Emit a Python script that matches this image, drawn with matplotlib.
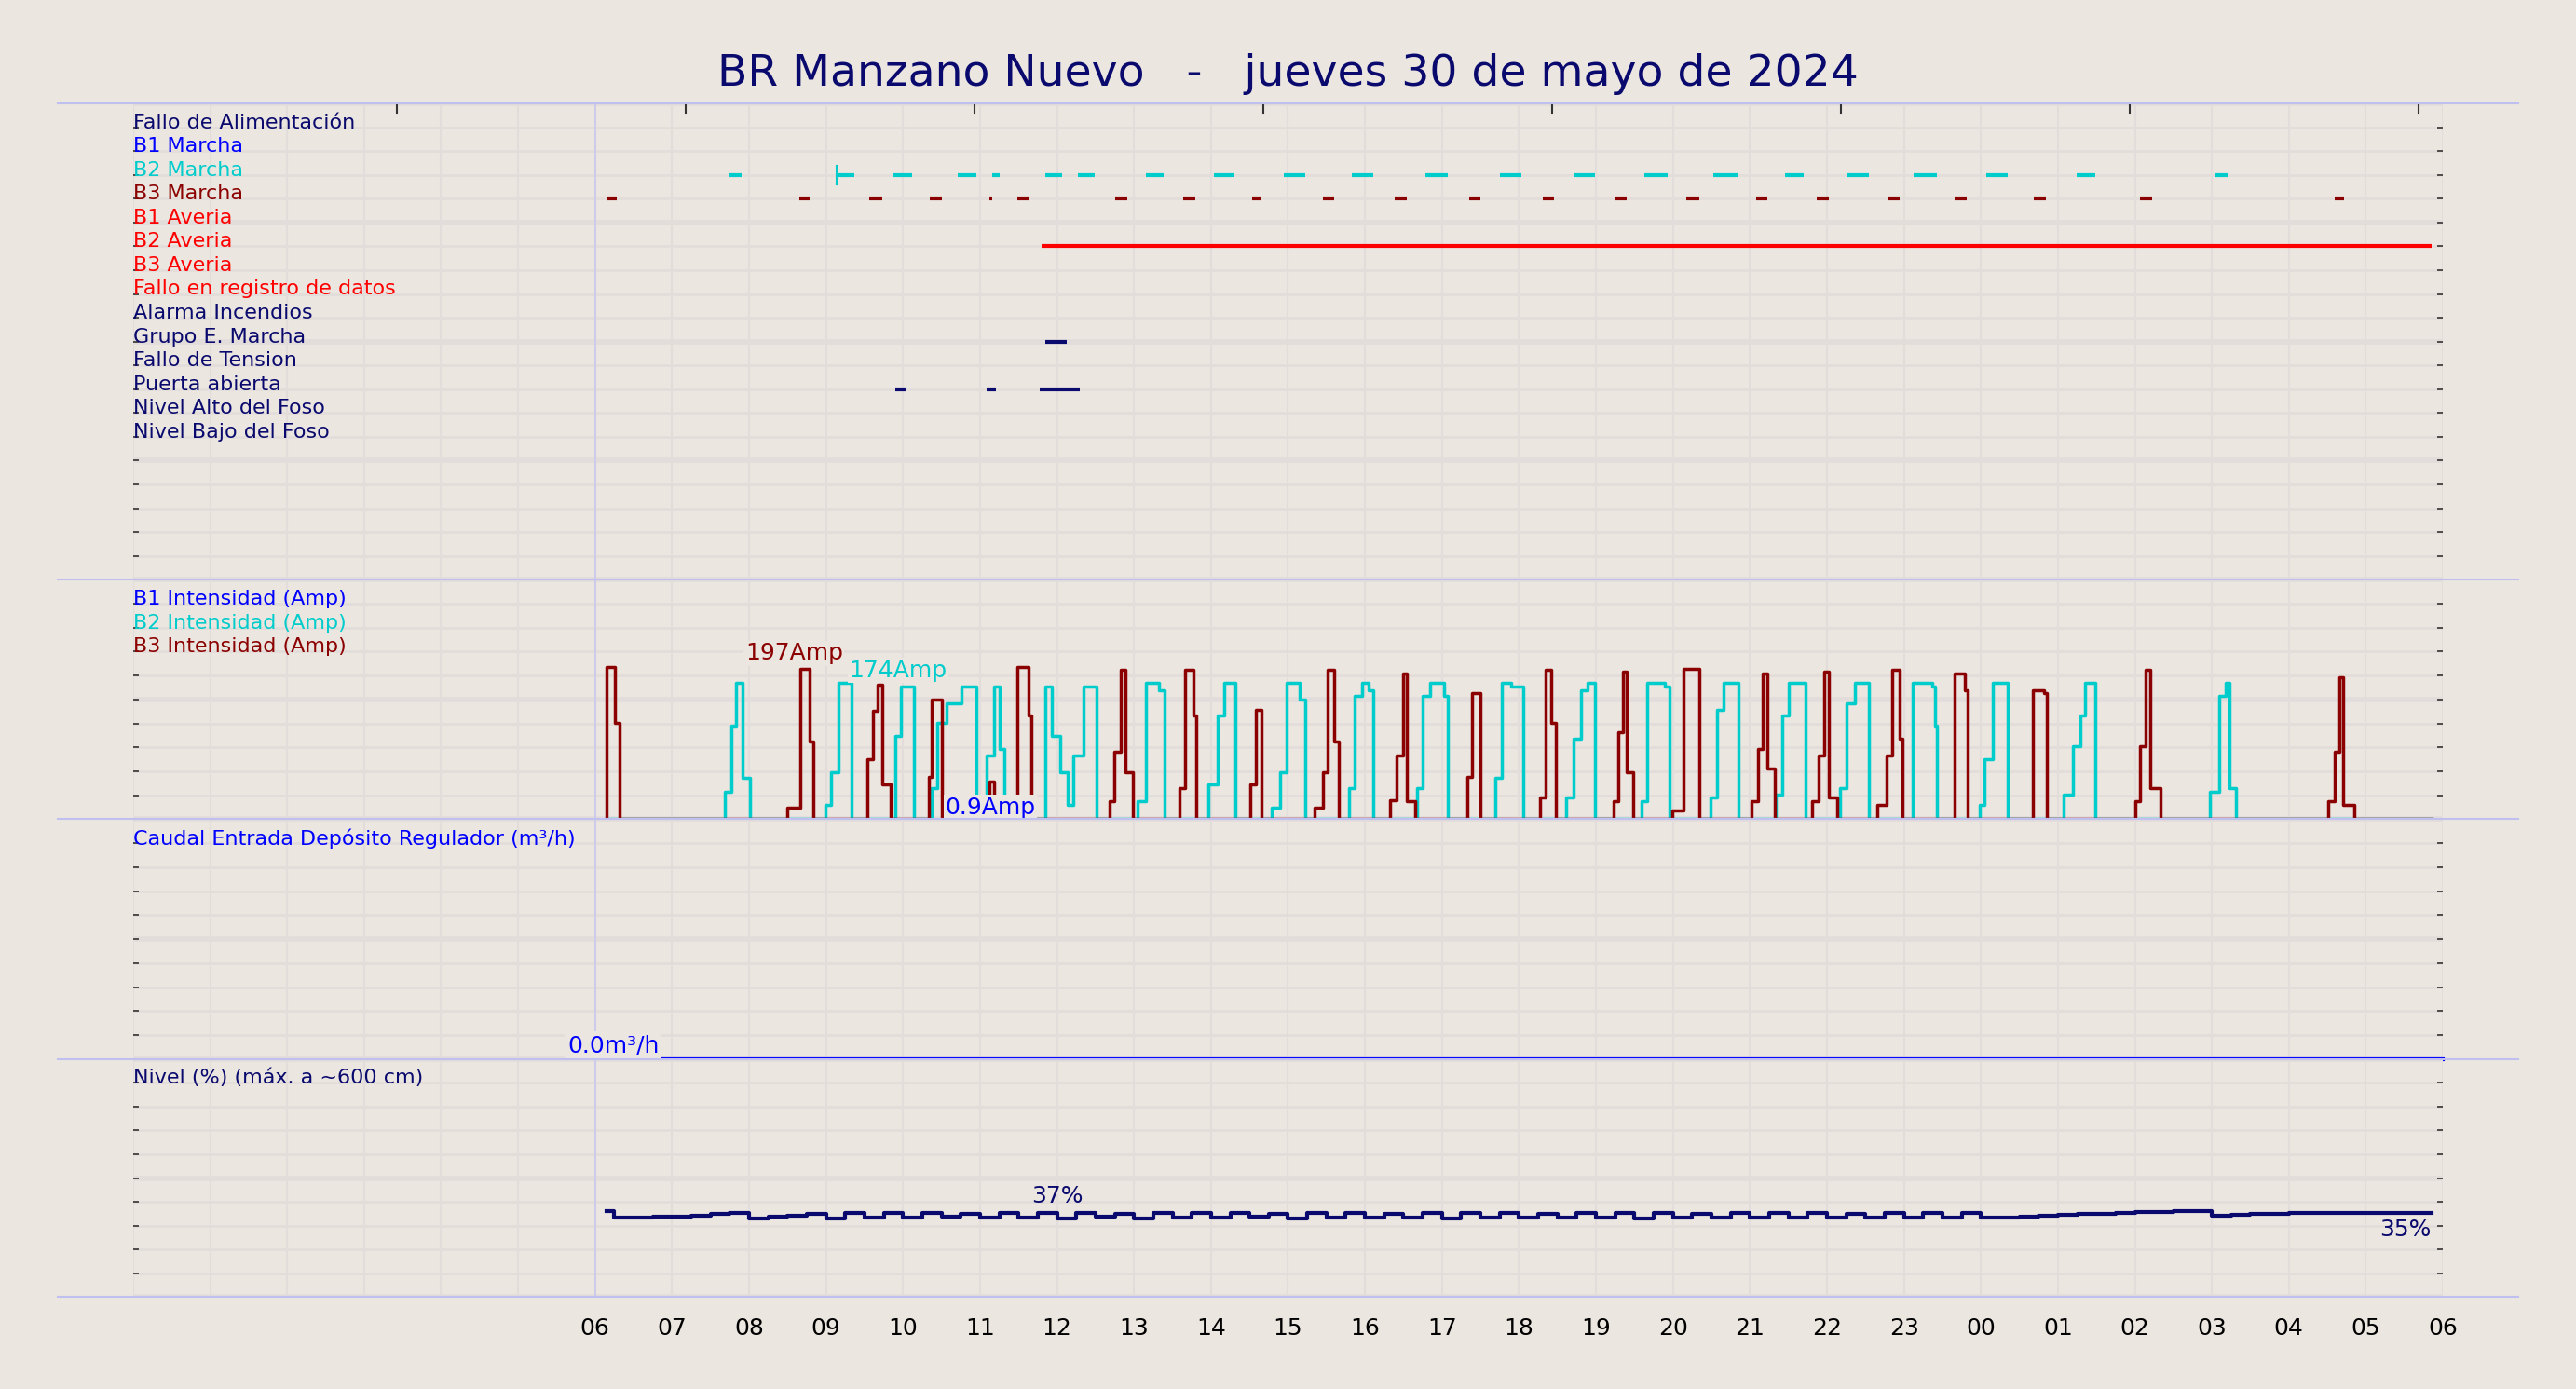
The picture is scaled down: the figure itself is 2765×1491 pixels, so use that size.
import matplotlib.pyplot as plt
import numpy as np

BG = '#ebe6e0'
NAVY = '#0a0a6e'
CYAN = '#00cccc'
DRED = '#8b0000'

title = "BR Manzano Nuevo   -   jueves 30 de mayo de 2024"
hour_labels = ['06', '07', '08', '09', '10', '11', '12', '13', '14', '15', '16', '17', '18',
               '19', '20', '21', '22', '23', '00', '01', '02', '03', '04', '05', '06']

signal_names = ['Fallo de Alimentación', 'B1 Marcha', 'B2 Marcha', 'B3 Marcha', 'B1 Averia',
                'B2 Averia', 'B3 Averia', 'Fallo en registro de datos', 'Alarma Incendios',
                'Grupo E. Marcha', 'Fallo de Tension', 'Puerta abierta', 'Nivel Alto del Foso',
                'Nivel Bajo del Foso']
signal_colors = [NAVY, 'blue', CYAN, DRED, 'red', 'red', 'red', 'red', NAVY, NAVY, NAVY, NAVY,
                 NAVY, NAVY]

# on-intervals (hours from 00:00 of the day; >24 = next day)
b2_marcha = [(7.75, 7.90), (9.14, 9.37), (9.88, 10.12), (10.71, 10.95), (11.16, 11.25),
             (11.85, 12.06), (12.27, 12.49), (13.15, 13.38), (14.04, 14.30), (14.94, 15.22),
             (15.83, 16.11), (16.79, 17.07), (17.75, 18.03), (18.71, 18.99), (19.63, 19.93),
             (20.53, 20.85), (21.45, 21.70), (22.26, 22.55), (23.13, 23.43), (24.07, 24.35),
             (25.24, 25.48), (27.03, 27.21)]
b3_marcha = [(6.15, 6.28), (8.65, 8.79), (9.56, 9.73), (10.35, 10.50), (11.12, 11.16),
             (11.48, 11.63), (12.76, 12.91), (13.64, 13.79), (14.53, 14.66), (15.45, 15.60),
             (16.39, 16.54), (17.35, 17.50), (18.31, 18.46), (19.25, 19.40), (20.17, 20.34),
             (21.08, 21.23), (21.87, 22.02), (22.79, 22.94), (23.66, 23.81), (24.69, 24.84),
             (26.07, 26.22), (28.59, 28.72)]
b2_averia = [(11.80, 29.85)]
grupo_marcha = [(11.85, 12.12)]
puerta_abierta = [(9.90, 10.03), (11.08, 11.21), (11.78, 12.29)]
signal_on = {2: b2_marcha, 3: b3_marcha, 5: b2_averia, 9: grupo_marcha, 11: puerta_abierta}

# current pulses: list of (time, amps) steps, last point returns to 0
b3_pulses = [
    [(6.15, 197), (6.26, 125), (6.32, 0)],
    [(8.50, 15), (8.67, 195), (8.79, 100), (8.84, 0)],
    [(9.54, 78), (9.61, 140), (9.67, 174), (9.73, 45), (9.84, 0)],
    [(10.33, 55), (10.37, 155), (10.50, 0)],
    [(11.12, 49), (11.18, 0)],
    [(11.48, 197), (11.63, 134), (11.67, 0)],
    [(12.68, 23), (12.74, 87), (12.83, 193), (12.89, 61), (12.98, 0)],
    [(13.59, 40), (13.66, 193), (13.77, 134), (13.81, 0)],
    [(14.51, 45), (14.58, 142), (14.66, 0)],
    [(15.34, 15), (15.45, 61), (15.51, 193), (15.60, 100), (15.66, 0)],
    [(16.33, 25), (16.41, 83), (16.50, 189), (16.54, 23), (16.65, 0)],
    [(17.33, 55), (17.39, 163), (17.50, 0)],
    [(18.27, 28), (18.35, 193), (18.42, 125), (18.48, 0)],
    [(19.23, 23), (19.29, 112), (19.35, 191), (19.40, 61), (19.48, 0)],
    [(19.99, 11), (20.14, 195), (20.31, 195), (20.34, 0)],
    [(21.02, 23), (21.10, 91), (21.17, 189), (21.23, 66), (21.32, 0)],
    [(21.81, 23), (21.89, 83), (21.96, 191), (22.02, 28), (22.13, 0)],
    [(22.66, 19), (22.77, 83), (22.85, 193), (22.94, 104), (22.98, 0)],
    [(23.66, 189), (23.79, 167), (23.83, 0)],
    [(24.67, 167), (24.82, 163), (24.86, 0)],
    [(26.01, 23), (26.07, 95), (26.14, 193), (26.20, 40), (26.33, 0)],
    [(28.51, 23), (28.59, 87), (28.66, 184), (28.70, 19), (28.85, 0)],
]
b2_pulses = [
    [(7.69, 36), (7.77, 121), (7.83, 176), (7.92, 53), (8.01, 0)],
    [(8.99, 19), (9.07, 61), (9.16, 176), (9.33, 0)],
    [(9.90, 108), (9.97, 172), (10.14, 0)],
    [(10.37, 40), (10.44, 125), (10.57, 150), (10.76, 172), (10.95, 0)],
    [(11.08, 83), (11.18, 172), (11.25, 91), (11.31, 0)],
    [(11.85, 172), (11.93, 108), (12.04, 61), (12.14, 19), (12.21, 83), (12.34, 172), (12.51, 0)],
    [(13.04, 23), (13.15, 176), (13.32, 167), (13.40, 0)],
    [(13.96, 45), (14.09, 134), (14.17, 176), (14.32, 0)],
    [(14.79, 15), (14.90, 61), (14.98, 176), (15.15, 155), (15.22, 0)],
    [(15.79, 40), (15.86, 159), (15.96, 176), (16.05, 167), (16.11, 0)],
    [(16.67, 40), (16.75, 159), (16.84, 176), (17.03, 159), (17.07, 0)],
    [(17.69, 53), (17.78, 176), (17.90, 172), (18.05, 0)],
    [(18.61, 28), (18.71, 104), (18.80, 167), (18.89, 176), (18.99, 0)],
    [(19.59, 23), (19.67, 176), (19.89, 172), (19.95, 0)],
    [(20.49, 28), (20.57, 142), (20.66, 176), (20.85, 0)],
    [(21.34, 32), (21.42, 134), (21.51, 176), (21.72, 0)],
    [(22.17, 40), (22.26, 150), (22.36, 176), (22.55, 0)],
    [(23.11, 176), (23.37, 172), (23.41, 121), (23.43, 0)],
    [(23.98, 19), (24.05, 78), (24.15, 176), (24.35, 0)],
    [(25.07, 32), (25.20, 95), (25.29, 134), (25.35, 176), (25.48, 0)],
    [(26.97, 36), (27.10, 159), (27.18, 176), (27.23, 40), (27.31, 0)],
]
current_start, current_end = 6.15, 29.85

caudal = 0.0

nivel_t0, nivel_dt = 6.25, 0.25
nivel = [33.3, 33.4, 33.6, 33.9, 34.3, 34.8, 35.5, 32.8, 33.6, 34.2, 34.8, 33.0, 35.2, 33.2,
         35.3, 33.4, 35.2, 33.6, 35.1, 33.2, 35.3, 33.5, 35.2, 33.0, 35.4, 33.6, 35.1, 33.1,
         35.3, 33.4, 35.2, 33.2, 35.3, 33.6, 35.1, 33.0, 35.2, 33.4, 35.3, 33.2, 35.1, 33.5,
         35.3, 33.0, 35.2, 33.4, 35.3, 33.5, 35.1, 33.2, 35.3, 33.4, 35.2, 33.0, 35.3, 33.5,
         35.1, 33.2, 35.3, 33.4, 35.2, 33.5, 35.3, 33.2, 35.1, 33.4, 35.3, 33.5, 35.2, 33.2,
         35.3, 33.5, 33.4, 33.8, 34.2, 34.5, 34.8, 35.1, 35.4, 35.7, 35.9, 36.2, 36.3, 34.2,
         34.5, 34.8, 35.0, 35.2]


def step_series(pulses, start, end):
    t = [start]
    v = [0]
    for p in pulses:
        t.append(p[0][0])
        v.append(0)
        for ti, vi in p:
            t.append(ti)
            v.append(vi)
    t.append(end)
    v.append(0)
    return np.array(t), np.array(v)


def style_axis(ax, nrows, ymax):
    ax.set_facecolor(BG)
    ax.set_xlim(0, 30)
    ax.set_ylim(0, ymax)
    for s in ax.spines.values():
        s.set_visible(False)
    step = ymax / nrows
    for k in range(nrows + 1):
        thick = (nrows - k) % 5 == 0
        ax.axhline(k * step, color='#e2dcda', lw=4 if thick else 1.8, zorder=0)
    for h in range(0, 31):
        ax.axvline(h, color='#e2dcda', lw=1.5, zorder=0)
    ax.axvline(6, color='#c8c8f0', lw=1.2, zorder=0.5)
    ax.set_yticks([k * step for k in range(nrows)])
    ax.tick_params(axis='y', left=True, right=True, labelleft=False, length=4, width=1.2,
                   direction='in', color='#333333')
    ax.tick_params(axis='x', bottom=False, labelbottom=False)


fig = plt.figure(figsize=(27.65, 14.91), dpi=100, facecolor=BG)
left, width = 0.0517, 0.8966
bounds = [0.9255, 0.5827, 0.4102, 0.2376, 0.0662]
axes = []
for i in range(4):
    ax = fig.add_axes([left, bounds[i + 1], width, bounds[i] - bounds[i + 1]])
    axes.append(ax)
ax_dig, ax_cur, ax_cau, ax_niv = axes

fig.text(0.5, 0.947, title, ha='center', va='center', fontsize=34, color=NAVY)
for yb in bounds:
    fig.add_artist(plt.Line2D([0.0223, 0.9777], [yb, yb], transform=fig.transFigure,
                              color='#c0c0f0', lw=1.5))

LABEL_FS = 16

# digital signals
style_axis(ax_dig, 20, 20)
for i, name in enumerate(signal_names):
    y = 20 - (i + 1)
    ax_dig.text(0.0, y + 0.2, name, color=signal_colors[i], fontsize=LABEL_FS, va='center')
    for a, b in signal_on.get(i, []):
        ax_dig.plot([a, b], [y, y], color=signal_colors[i], lw=3, solid_capstyle='butt')
ax_dig.plot([9.14, 9.14], [16.6, 17.4], color=CYAN, lw=1.5)
for xt in np.arange(3.43, 30, 3.75):
    ax_dig.plot([xt, xt], [19.6, 20], color='#333333', lw=1.5)

# currents
style_axis(ax_cur, 10, 310)
for k, (lab, c) in enumerate([('B1 Intensidad (Amp)', 'blue'), ('B2 Intensidad (Amp)', CYAN),
                              ('B3 Intensidad (Amp)', DRED)]):
    ax_cur.text(0.0, 310 - (k + 1) * 31 + 6, lab, color=c, fontsize=LABEL_FS, va='center')
t2, v2 = step_series(b2_pulses, current_start, current_end)
t3, v3 = step_series(b3_pulses, current_start, current_end)
ax_cur.step(t2, v2, where='post', color=CYAN, lw=2.5, zorder=3)
ax_cur.step(t3, v3, where='post', color=DRED, lw=2.5, zorder=4)
ax_cur.text(7.95, 200, '197Amp', color=DRED, fontsize=18, va='bottom', zorder=5,
            bbox=dict(facecolor=BG, edgecolor='none', pad=1))
ax_cur.text(9.3, 178, '174Amp', color=CYAN, fontsize=18, va='bottom', zorder=5,
            bbox=dict(facecolor=BG, edgecolor='none', pad=1))
ax_cur.text(10.55, 1, '0.9Amp', color='blue', fontsize=18, va='bottom', zorder=5,
            bbox=dict(facecolor=BG, edgecolor='none', pad=1))
ax_cur.text(30, -5, '0.0Amp', color=DRED, fontsize=18, ha='right', va='top', clip_on=False)

# caudal
style_axis(ax_cau, 10, 100)
ax_cau.text(0.0, 90 + 2, 'Caudal Entrada Depósito Regulador (m³/h)', color='blue',
            fontsize=LABEL_FS, va='center')
ax_cau.plot([current_start, 30], [caudal, caudal], color='blue', lw=3, clip_on=False, zorder=3)
ax_cau.text(6.83, 1, '%.1fm³/h' % caudal, color='blue', fontsize=18, ha='right', va='bottom',
            zorder=5, bbox=dict(facecolor=BG, edgecolor='none', pad=2))
ax_cau.text(30, -3, '%.1fm³/h' % caudal, color='blue', fontsize=18, ha='right', va='top',
            clip_on=False, zorder=5)

# nivel
style_axis(ax_niv, 10, 100)
ax_niv.text(0.0, 90 + 2, 'Nivel (%) (máx. a ~600 cm)', color=NAVY, fontsize=LABEL_FS,
            va='center')
tn = nivel_t0 + nivel_dt * np.arange(len(nivel))
ax_niv.step(np.r_[6.15, tn, 29.85], np.r_[36.0, nivel, nivel[-1]], where='post', color=NAVY,
            lw=3)
ax_niv.text(12.0, 37.5, '37%', color=NAVY, fontsize=18, ha='center', va='bottom')
ax_niv.text(29.85, 33, '35%', color=NAVY, fontsize=18, ha='right', va='top')
ax_niv.set_xticks(range(6, 31))
ax_niv.set_xticklabels(hour_labels)
ax_niv.tick_params(axis='x', bottom=False, labelbottom=True, labelsize=18, pad=12)

fig.savefig('out.png', dpi=100, facecolor=BG)
